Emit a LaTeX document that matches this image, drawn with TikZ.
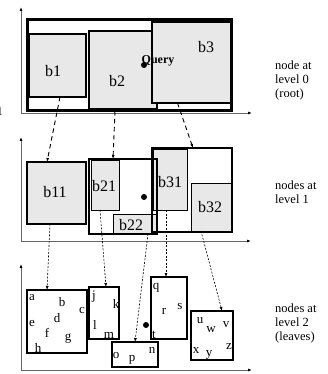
\documentclass[tikz,border=0pt]{standalone}
\usepackage{fontspec}
\setmainfont{Liberation Serif}
\usetikzlibrary{arrows.meta}
\definecolor{boxfill}{RGB}{232,232,232}
\begin{document}
\begin{tikzpicture}[x=1pt,y=-1pt,
  axis/.style={draw=black!60,line width=0.8pt,-{Latex[length=4pt,width=3pt,black]}},
  rbox/.style={draw,anchor=north west,inner sep=0pt,outer sep=0pt},
  rootbox/.style={rbox,line width=3pt},
  thickbox/.style={rbox,line width=2.1pt},
  leafbox/.style={rbox,line width=2pt},
  inbox/.style={rbox,fill=boxfill,line width=1.3pt},
  thinbox/.style={rbox,fill=boxfill,line width=1pt},
  blab/.style={font=\fontsize{16}{16}\selectfont,inner sep=0pt},
  lett/.style={font=\fontsize{13}{13}\selectfont,inner sep=0pt},
  side/.style={font=\fontsize{12.5}{14}\selectfont,align=left,anchor=west,inner sep=0pt},
  qdot/.style={fill,circle,inner sep=0pt,minimum size=6pt},
  dashlink/.style={line width=0.9pt,dash pattern=on 4.5pt off 3.5pt,-{Latex[length=4pt,width=3pt]}},
  dotlink/.style={line width=0.6pt,dash pattern=on 2pt off 1.5pt,-{Latex[length=4pt,width=3pt]}}
]
\useasboundingbox (0,0) rectangle (328,374);

% ---------- level 0 ----------
\coordinate (o0) at (21,113);
\coordinate (y0) at (21,7);
\coordinate (x0) at (252,113);
\draw[axis] (o0) -- (y0);
\draw[axis] (o0) -- (x0);
\node[rootbox,minimum width=204pt,minimum height=91pt] (root) at (27,20) {};
\node[inbox,minimum width=57pt,minimum height=63pt] (b1) at (29,34) {};
\node[inbox,minimum width=68pt,minimum height=78pt] (b2) at (89,31) {};
\node[inbox,minimum width=79pt,minimum height=81pt] (b3) at (152,22) {};
\node[blab] (lb1) at (53,71) {b1};
\node[blab] (lb2) at (117,81) {b2};
\node[blab] (lb3) at (206,47) {b3};
\node[qdot] (q0) at (144,65) {};
\node[font=\fontsize{12}{12}\selectfont\bfseries,inner sep=0pt] (ql) at (158,61) {Query};
\node[inner sep=0pt,font=\fontsize{12}{12}\selectfont,anchor=east] (stray) at (3,112) {1};

% ---------- level 1 ----------
\coordinate (o1) at (21,241);
\coordinate (y1) at (21,137);
\coordinate (x1) at (251,241);
\draw[axis] (o1) -- (y1);
\draw[axis] (o1) -- (x1);
\node[thickbox,fill=boxfill,minimum width=59pt,minimum height=62pt] (b11) at (27,162) {};
\node[thinbox,minimum width=28pt,minimum height=50pt] (b21) at (91,160) {};
\node[thinbox,minimum width=44pt,minimum height=20pt] (b22) at (113,214) {};
\node[thinbox,minimum width=34pt,minimum height=61pt] (b31) at (153,149) {};
\node[thinbox,minimum width=41pt,minimum height=48pt] (b32) at (191,183) {};
\node[thickbox,minimum width=68pt,minimum height=75pt] (B2) at (89,159) {};
\node[thickbox,minimum width=80pt,minimum height=84pt] (B3) at (152,148) {};
\node[blab] (lb11) at (55,192) {b11};
\node[blab] (lb21) at (104,186) {b21};
\node[blab] (lb22) at (131,225) {b22};
\node[blab] (lb31) at (170,182) {b31};
\node[blab] (lb32) at (210,207) {b32};
\node[qdot] (q1) at (144,197) {};

% ---------- level 2 ----------
\coordinate (o2) at (21,370);
\coordinate (y2) at (21,264);
\coordinate (x2) at (252,370);
\draw[axis] (o2) -- (y2);
\draw[axis] (o2) -- (x2);
\node[leafbox,minimum width=60pt,minimum height=63pt] (L1) at (27,290) {};
\node[leafbox,minimum width=30pt,minimum height=52pt] (L2) at (89,287) {};
\node[leafbox,minimum width=46pt,minimum height=25pt] (L3) at (112,342) {};
\node[leafbox,minimum width=36pt,minimum height=62pt] (L4) at (151,277) {};
\node[leafbox,minimum width=42pt,minimum height=49pt] (L5) at (191,311) {};
\node[qdot] (q2) at (146,325) {};
% leaf 1
\node[lett] (la) at (32,298) {a};
\node[lett] (lb) at (62,302) {b};
\node[lett] (lc) at (82,310) {c};
\node[lett] (ld) at (57,318) {d};
\node[lett] (le) at (32,323) {e};
\node[lett] (lf) at (47,333) {f};
\node[lett] (lg) at (68,339) {g};
\node[lett] (lh) at (38,348) {h};
% leaf 2
\node[lett] (lj) at (94,297) {j};
\node[lett] (lk) at (116,304) {k};
\node[lett] (ll) at (95,325) {l};
\node[lett] (lm) at (109,335) {m};
% leaf 3
\node[lett] (lo) at (116,355) {o};
\node[lett] (lp) at (132,360) {p};
\node[lett] (ln) at (152,350) {n};
% leaf 4
\node[lett] (lq) at (156,288) {q};
\node[lett] (lr) at (164,311) {r};
\node[lett] (ls) at (180,306) {s};
\node[lett] (lt) at (154,335) {t};
% leaf 5
\node[lett] (lu) at (200,321) {u};
\node[lett] (lw) at (211,330) {w};
\node[lett] (lv) at (226,325) {v};
\node[lett] (lx) at (196,351) {x};
\node[lett] (ly) at (209,355) {y};
\node[lett] (lz) at (229,347) {z};

% ---------- links ----------
\draw[dashlink] ([xshift=2.5pt]b1.south) -- ([xshift=-9.5pt]b11.north);
\draw[dashlink] ([xshift=-8pt]root.south -| b2.south) -- ([xshift=-10pt]B2.north);
\draw[dashlink] ([xshift=-14pt]b3.south) -- ([xshift=1pt]B3.north);
\draw[dotlink] ([xshift=-6.5pt]b11.south) -- ([xshift=-10pt]L1.north);
\draw[dotlink] ([xshift=-5pt]b21.south) -- ([xshift=2pt]L2.north);
\draw[dotlink] ([xshift=13pt]b22.south) -- (L3.north);
\draw[dotlink] ([xshift=-4pt]b31.south) -- ([xshift=-3pt]L4.north);
\draw[dotlink] ([xshift=-10.5pt]b32.south) -- ([xshift=10pt]L5.north);

% ---------- side labels ----------
\node[side] (s0) at (275,80) {node at\\level 0\\(root)};
\node[side] (s1) at (275,192) {nodes at\\level 1};
\node[side] (s2) at (275,323) {nodes at\\level 2\\(leaves)};
\end{tikzpicture}
\end{document}
